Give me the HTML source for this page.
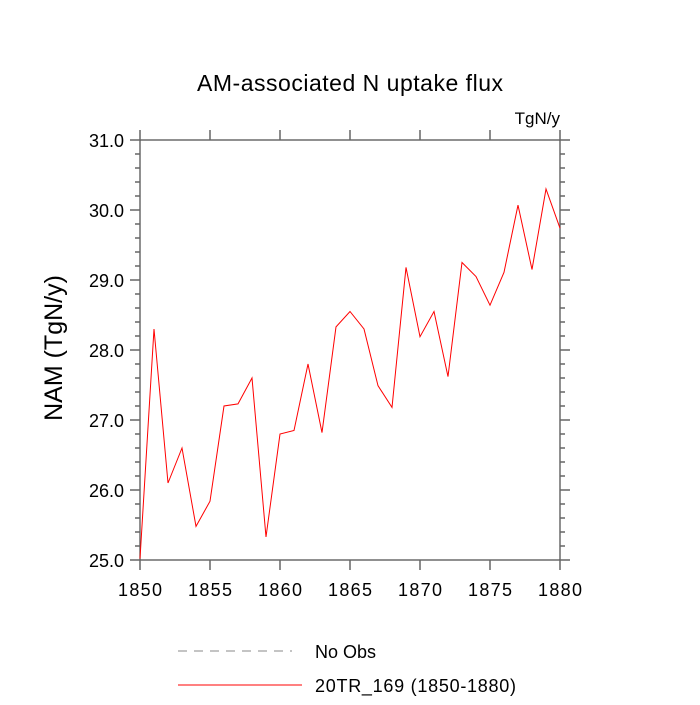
<!DOCTYPE html>
<html><head><meta charset="utf-8"><style>
body{margin:0;background:#fff}
svg text{font-family:"Liberation Sans",Arial,sans-serif;fill:#000}
</style></head><body>
<svg id="chart" width="700" height="700" viewBox="0 0 700 700">
<text x="350" y="91" font-size="23" text-anchor="middle" textLength="306">AM-associated N uptake flux</text>
<text x="560" y="124" font-size="17" text-anchor="end">TgN/y</text>
<text transform="translate(62,348) rotate(-90)" font-size="25" text-anchor="middle">NAM  (TgN/y)</text>
<g id="axes"></g>
<g id="series"></g>
<g>
<line x1="178" y1="651" x2="292" y2="651" stroke="#888" stroke-dasharray="9,7"/>
<text x="315" y="658" font-size="18">No Obs</text>
<line x1="178" y1="685" x2="302" y2="685" stroke="#f00"/>
<text x="315" y="692" font-size="18" textLength="201">20TR_169 (1850-1880)</text>
</g>
</svg>
<script>
const years=[1850,1851,1852,1853,1854,1855,1856,1857,1858,1859,1860,1861,1862,1863,1864,1865,1866,1867,1868,1869,1870,1871,1872,1873,1874,1875,1876,1877,1878,1879,1880];
const values=[25.02,28.30,26.10,26.60,25.48,25.84,27.20,27.23,27.60,25.33,26.80,26.85,27.80,26.82,28.33,28.55,28.30,27.49,27.18,29.18,28.19,28.55,27.62,29.25,29.05,28.64,29.11,30.07,29.15,30.30,29.74];
const xTicks=[1850,1855,1860,1865,1870,1875,1880];
const yTicks=[25,26,27,28,29,30,31];
const X0=140,X1=560,Y0=560,Y1=140;
const xs=v=>X0+(v-1850)/(1880-1850)*(X1-X0);
const ys=v=>Y0-(v-25)/(31-25)*(Y0-Y1);
const NS="http://www.w3.org/2000/svg";
const axes=document.getElementById('axes');
function mk(tag,attrs,parent){const e=document.createElementNS(NS,tag);for(const k in attrs)e.setAttribute(k,attrs[k]);parent.appendChild(e);return e;}
const frame=mk('rect',{x:X0,y:Y1,width:X1-X0,height:Y0-Y1,fill:'none',stroke:'#555','stroke-width':1.3},axes);


const tc='#666';
xTicks.forEach(t=>{const x=xs(t);
 const a=mk('line',{x1:x,y1:Y0,x2:x,y2:Y0+10,stroke:tc,'stroke-width':1.5},axes);
 
 
 const b=mk('line',{x1:x,y1:Y1,x2:x,y2:Y1-10,stroke:tc,'stroke-width':1.5},axes);
 
 
 const l=mk('text',{x:x,y:Y0+36,'font-size':18,'text-anchor':'middle',textLength:44},axes);l.textContent=t;
 
 
});
for(let v=25;v<=31.001;v+=0.2){const y=ys(v);const major=Math.abs(v-Math.round(v))<0.01;const len=major?10:5;
 const a=mk('line',{x1:X0-len,y1:y,x2:X0,y2:y,stroke:tc,'stroke-width':1.5},axes);
 
 
 const b=mk('line',{x1:X1,y1:y,x2:X1+len,y2:y,stroke:tc,'stroke-width':1.5},axes);
 
 
}
yTicks.forEach(t=>{const l=mk('text',{x:X0-16,y:ys(t)+7,'font-size':18,'text-anchor':'end'},axes);l.textContent=t.toFixed(1);
 
 
});
const p=mk('polyline',{points:years.map((y,i)=>xs(y)+','+ys(values[i])).join(' '),fill:'none',stroke:'#f00','stroke-width':1},document.getElementById('series'));


</script>
</body></html>
